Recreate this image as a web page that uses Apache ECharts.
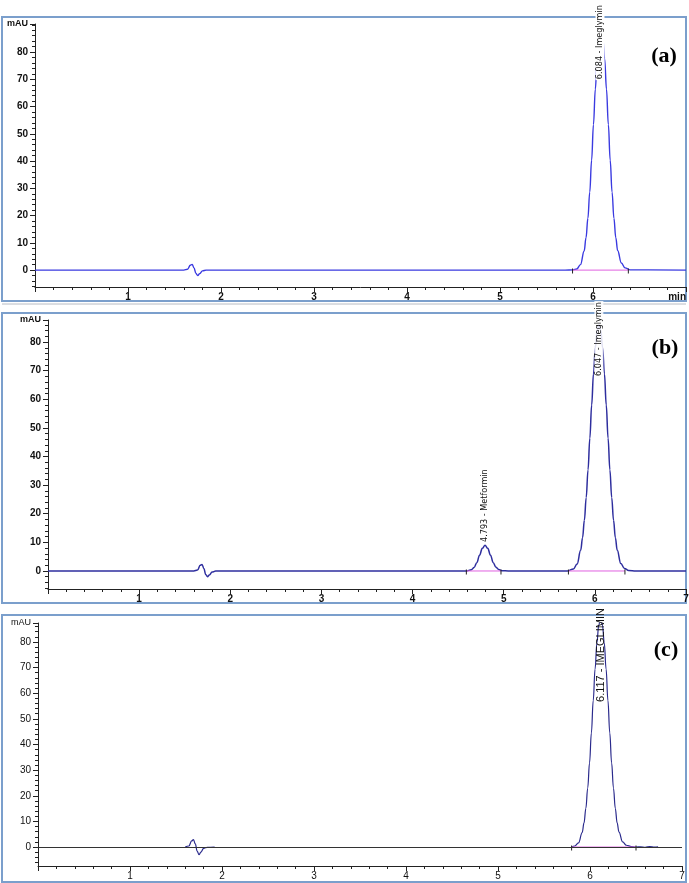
<!DOCTYPE html>
<html>
<head>
<meta charset="utf-8">
<script src="https://cdn.jsdelivr.net/npm/echarts@6/dist/echarts.min.js"></script>
<style>
  html, body { margin: 0; padding: 0; background: #fff; }
  #chart { width: 689px; height: 883px; }
</style>
</head>
<body>
<div id="chart"></div>
<script>
// retention time (min) and signal (mAU)
const timeA = [0, 1.60, 1.64, 1.67, 1.69, 1.71, 1.73, 1.75, 1.77, 1.80, 1.84, 5.70, 5.785, 5.825, 5.865, 5.905, 5.925, 5.945, 5.965, 5.985, 6.005, 6.025, 6.045, 6.065, 6.085, 6.105, 6.125, 6.145, 6.165, 6.185, 6.205, 6.225, 6.245, 6.265, 6.305, 6.345, 6.40, 7.0];
const signalA = [0, 0, 0.3, 1.8, 2.1, 0.8, -1.2, -2.0, -1.3, -0.3, 0, 0, 0.1, 0.4, 2.0, 7.0, 11.9, 19.0, 28.6, 40.3, 53.4, 66.4, 77.6, 85.3, 88, 85.3, 77.6, 66.4, 53.4, 40.3, 28.6, 19.0, 11.9, 7.2, 2.6, 0.8, 0.1, 0];

const timeB = [0, 1.60, 1.64, 1.67, 1.69, 1.71, 1.73, 1.75, 1.77, 1.80, 1.84, 4.59, 4.645, 4.675, 4.705, 4.735, 4.765, 4.795, 4.825, 4.855, 4.885, 4.915, 4.945, 4.98, 5.05, 5.70, 5.765, 5.805, 5.845, 5.865, 5.885, 5.905, 5.925, 5.945, 5.965, 5.985, 6.005, 6.025, 6.045, 6.065, 6.085, 6.105, 6.125, 6.145, 6.165, 6.185, 6.205, 6.225, 6.245, 6.285, 6.325, 6.37, 6.45, 7.0];
const signalB = [0, 0, 0.3, 2.0, 2.3, 0.9, -1.2, -2.0, -1.4, -0.4, 0, 0, 0.4, 1.2, 2.9, 5.5, 7.9, 9.0, 7.9, 5.5, 2.9, 1.3, 0.5, 0.1, 0, 0, 0.7, 2.4, 7.3, 11.6, 17.7, 25.6, 35.3, 46.4, 58.0, 68.9, 78.0, 84.0, 86, 84.0, 78.0, 68.9, 58.0, 46.4, 35.3, 25.6, 17.7, 11.6, 7.3, 2.6, 0.9, 0.2, 0, 0];

const timeC = [1.60, 1.64, 1.67, 1.69, 1.71, 1.73, 1.75, 1.77, 1.80, 1.84, 1.92, 4.0, 5.80, 5.835, 5.875, 5.915, 5.935, 5.955, 5.975, 5.995, 6.015, 6.035, 6.055, 6.075, 6.095, 6.115, 6.135, 6.155, 6.175, 6.195, 6.215, 6.235, 6.255, 6.275, 6.295, 6.315, 6.355, 6.395, 6.45, 6.50, 6.55, 6.60, 6.65, 6.70, 6.74];
const signalC = [0, 0.4, 2.4, 2.9, 1.2, -1.6, -3.0, -2.0, -0.5, -0.1, 0, null, 0, 0.4, 1.6, 5.6, 9.4, 15.1, 23.0, 32.8, 44.5, 57.1, 69.4, 79.7, 86.6, 89, 86.6, 79.7, 69.4, 57.1, 44.5, 32.8, 23.0, 15.1, 9.4, 5.8, 2.0, 0.7, 0.2, 0, 0.1, -0.1, 0.2, 0, 0.1];

// integration baselines (start, end)
const baseA = [[5.78, 6.38]];
const baseB = [[4.59, 4.97], [5.71, 6.33]];
const baseC = [[5.80, 6.50]];

// peak annotations: [time, mAU at text foot, text]
const peaksA = [[6.075, 69.7, '6.084 - Imeglymin']];
const peaksB = [[4.793, 9.8, '4.793 - Metformin'], [6.044, 67.8, '6.047 - Imeglymin']];
const peaksC = [[6.12, 56.2, '6.117 - IMEGLIMIN']];

const yTicks = [0, 10, 20, 30, 40, 50, 60, 70, 80];
const xLastLabel = ['min', '7', '7'];

const chart = echarts.init(document.getElementById('chart'));

const grids = [], xAxes = [], yAxes = [], series = [];

function zip(t, v) {
  return t.map((x, k) => [x, v[k]]);
}

function addPanel(i, p) {
  grids.push({ left: p.left, right: p.right, top: p.top, height: p.height, outerBoundsMode: 'none', containLabel: false });
  const font = { fontFamily: 'Liberation Sans', fontSize: 10, color: '#111', fontWeight: p.bold ? 'bold' : 'normal' };
  xAxes.push({
    gridIndex: i, type: 'value', min: 0, max: 7, interval: 1,
    axisLine: { onZero: false, lineStyle: { color: '#222', width: 1 } },
    axisTick: { length: 5, lineStyle: { color: '#222' } },
    minorTick: { show: true, splitNumber: 5, length: 3, lineStyle: { color: '#222' } },
    splitLine: { show: false },
    axisLabel: Object.assign({
      margin: 5, alignMaxLabel: i === 0 ? 'right' : null,
      formatter: v => v === 0 ? '' : (v === 7 ? xLastLabel[i] : v)
    }, font)
  });
  const major = yTicks.concat([p.ymax]);
  const minor = [];
  for (let v = Math.ceil(p.ymin / 2) * 2; v < p.ymax; v += 2) minor.push(v);
  yAxes.push({
    gridIndex: i, type: 'value', min: p.ymin, max: p.ymax,
    axisLine: { show: true, onZero: false, lineStyle: { color: '#222', width: 1 } },
    axisTick: { show: true, length: 5, customValues: major, lineStyle: { color: '#222' } },
    splitLine: { show: false },
    axisLabel: Object.assign({}, font, {
      margin: 7, customValues: major,
      formatter: v => v === p.ymax ? '{u|mAU}' : v,
      rich: { u: { fontFamily: 'Liberation Sans', fontSize: 9, color: '#111', fontWeight: p.bold ? 'bold' : 'normal' } }
    })
  });
  yAxes.push({
    gridIndex: i, type: 'value', min: p.ymin, max: p.ymax, position: 'left',
    axisLine: { show: false },
    axisTick: { show: true, length: 3, customValues: minor, lineStyle: { color: '#222' } },
    axisLabel: { show: false }, splitLine: { show: false }
  });
  const trace = {
    type: 'line', xAxisIndex: i, yAxisIndex: 2 * i,
    data: zip(p.time, p.signal), showSymbol: false, smooth: 0.4, smoothMonotone: 'x',
    connectNulls: false, lineStyle: { color: p.color, width: p.width }, z: 3,
    markPoint: {
      symbol: 'rect', symbolSize: 1, itemStyle: { color: 'rgba(0,0,0,0)' },
      label: {
        show: true, position: 'inside', rotate: 90, align: 'left', verticalAlign: 'middle',
        formatter: d => d.name, fontFamily: p.labelFont, fontSize: p.labelSize, color: '#111',
        backgroundColor: p.labelBg, padding: [0, 1]
      },
      data: p.peaks.map(q => ({ coord: [q[0], q[1]], name: q[2] }))
    }
  };
  if (p.zeroLine) {
    trace.markLine = {
      silent: true, symbol: 'none', label: { show: false },
      lineStyle: { color: '#333', width: 1, type: 'solid' },
      data: [{ yAxis: 0 }]
    };
  }
  series.push(trace);
  p.base.forEach(b => {
    series.push({
      type: 'line', xAxisIndex: i, yAxisIndex: 2 * i, z: 4,
      data: [[b[0], 0], [b[1], 0]],
      symbol: 'rect', symbolSize: [1, 5], symbolOffset: [0, 1], showSymbol: true,
      itemStyle: { color: '#222' },
      lineStyle: { color: '#e060e0', width: 1 }
    });
  });
}

const narrow = '"Liberation Sans Narrow", "DejaVu Sans Condensed", "Liberation Sans", sans-serif';

addPanel(0, { left: 35, right: 3, top: 24, height: 263, ymin: -6.2, ymax: 90.3, bold: true,
  time: timeA, signal: signalA, base: baseA, peaks: peaksA, color: '#3a3ae0', width: 1.4,
  labelFont: narrow, labelSize: 9, labelBg: '#fff' });
addPanel(1, { left: 48, right: 3, top: 320, height: 269, ymin: -6.3, ymax: 87.7, bold: true,
  time: timeB, signal: signalB, base: baseB, peaks: peaksB, color: '#2e2e9e', width: 1.5,
  labelFont: narrow, labelSize: 9, labelBg: 'rgba(255,255,255,0.85)' });
addPanel(2, { left: 38, right: 7, top: 623, height: 243, ymin: -7.4, ymax: 87.4, bold: false,
  time: timeC, signal: signalC, base: baseC, peaks: peaksC, color: '#2a2a8c', width: 1.2, zeroLine: true,
  labelFont: 'Liberation Sans, sans-serif', labelSize: 11, labelBg: 'transparent' });

const frame = { fill: 'none', stroke: '#7b9fcc', lineWidth: 2 };
const letter = { fill: '#000', font: 'bold 22px "Liberation Serif"', textAlign: 'center', textVerticalAlign: 'middle' };

chart.setOption({
  animation: false,
  backgroundColor: '#fff',
  grid: grids,
  xAxis: xAxes,
  yAxis: yAxes,
  series: series,
  graphic: [
    { type: 'rect', shape: { x: 2, y: 17, width: 684, height: 284 }, style: frame, silent: true },
    { type: 'line', shape: { x1: 2, y1: 304, x2: 686, y2: 304 }, style: { stroke: '#b8bcc4', lineWidth: 1 }, silent: true },
    { type: 'rect', shape: { x: 2, y: 313, width: 684, height: 290 }, style: frame, silent: true },
    { type: 'rect', shape: { x: 2, y: 615, width: 684, height: 267 }, style: frame, silent: true },
    { type: 'text', x: 664, y: 56, style: Object.assign({ text: '(a)' }, letter) },
    { type: 'text', x: 665, y: 348, style: Object.assign({ text: '(b)' }, letter) },
    { type: 'text', x: 666, y: 650, style: Object.assign({ text: '(c)' }, letter) }
  ]
});
</script>
</body>
</html>
